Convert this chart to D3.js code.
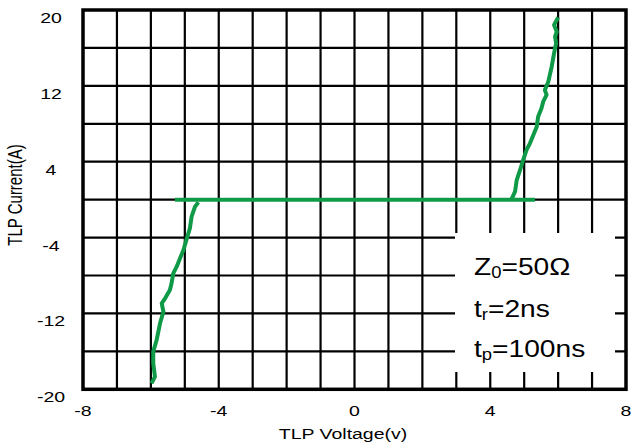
<!DOCTYPE html>
<html><head><meta charset="utf-8">
<script src="https://cdn.jsdelivr.net/npm/d3@7"></script>
<style>body{margin:0;background:#fff}</style>
</head><body>
<svg id="c" width="631" height="447"></svg>
<script>
const xTicks = [-8, -4, 0, 4, 8];
const yTicks = [20, 12, 4, -4, -12, -20];
const xGrid = [-7,-6,-5,-4,-3,-2,-1,0,1,2,3,4,5,6,7];
const yGrid = [16,12,8,4,0,-4,-8,-12,-16];
const flatX = [-5.29, 5.32];
const flatY = [0, 0];
const leftX = [-4.60,-4.70,-4.80,-4.85,-4.94,-5.04,-5.14,-5.24,-5.34,-5.39,-5.44,-5.58,-5.68,-5.63,-5.73,-5.83,-5.93,-5.93,-5.88,-5.98];
const leftY = [-0.28,-0.74,-1.80,-3.02,-4.08,-5.31,-6.18,-7.07,-7.77,-8.82,-9.53,-10.40,-10.93,-11.82,-13.04,-14.80,-16.03,-17.26,-18.67,-19.37];
const rightX = [4.63,4.73,4.78,4.88,4.97,5.07,5.17,5.27,5.37,5.41,5.51,5.56,5.66,5.61,5.71,5.81,5.88,5.94,5.91,5.96,5.88,5.96,6.00];
const rightY = [0.05,0.84,2.07,3.13,4.18,5.24,5.94,6.82,7.69,8.75,9.63,10.33,11.04,11.56,12.44,14.02,15.43,16.49,17.18,17.71,18.42,18.95,19.23];
const notes = [["Z","0","=50Ω"],["t","r","=2ns"],["t","p","=100ns"]];

const svg = d3.select("#c");
const x = d3.scaleLinear().domain([-8, 8]).range([83, 626]);
const y = d3.scaleLinear().domain([-20, 20]).range([389.3, 10]);
const SX = 1.3;
const font = "'Liberation Sans', Arial, sans-serif";

// grid
svg.append("g").selectAll("line").data(xGrid).join("line")
  .attr("x1", d => x(d)).attr("x2", d => x(d)).attr("y1", y(20)).attr("y2", y(-20))
  .attr("stroke", "#000").attr("stroke-width", 2.2);
svg.append("g").selectAll("line").data(yGrid).join("line")
  .attr("y1", d => y(d)).attr("y2", d => y(d)).attr("x1", x(-8)).attr("x2", x(8))
  .attr("stroke", "#000").attr("stroke-width", 2.2);

// annotation box
svg.append("rect").attr("x", 455).attr("y", 233).attr("width", 160).attr("height", 139).attr("fill", "#fff");

// frame
svg.append("rect").attr("x", x(-8)).attr("y", y(20)).attr("width", x(8) - x(-8)).attr("height", y(-20) - y(20))
  .attr("fill", "none").attr("stroke", "#000").attr("stroke-width", 3.5);

// data
const line = d3.line().x(d => x(d[0])).y(d => y(d[1]));
const green = "#0f9a48";
[[flatX, flatY],[leftX, leftY],[rightX, rightY]].forEach(([xs, ys]) => {
  svg.append("path").datum(xs.map((v, i) => [v, ys[i]])).attr("d", line)
    .attr("fill", "none").attr("stroke", green).attr("stroke-width", 4)
    .attr("stroke-linejoin", "round");
});

// tick labels
svg.append("g").selectAll("text").data(yTicks).join("text")
  .attr("transform", d => `translate(51,${y(d) + 13}) scale(${SX},1)`)
  .attr("text-anchor", "middle").attr("font-family", font).attr("font-size", 15).attr("fill", "#000")
  .text(d => d);
svg.append("g").selectAll("text").data(xTicks).join("text")
  .attr("transform", d => `translate(${x(d)},416) scale(${SX},1)`)
  .attr("text-anchor", "middle").attr("font-family", font).attr("font-size", 15).attr("fill", "#000")
  .text(d => d);

// axis titles
svg.append("text").attr("transform", `translate(343,439) scale(${SX},1)`)
  .attr("text-anchor", "middle").attr("font-family", font).attr("font-size", 15).text("TLP Voltage(v)");
svg.append("text").attr("transform", `translate(22,195) scale(${SX},1) rotate(-90)`)
  .attr("text-anchor", "middle").attr("font-family", font).attr("font-size", 15).text("TLP Current(A)");

// annotations
const baselines = [275, 317, 357];
notes.forEach((n, i) => {
  const t = svg.append("text").attr("transform", `translate(474,${baselines[i]}) scale(1.15,1)`)
    .attr("font-family", font).attr("font-size", 24.5).attr("fill", "#000");
  t.append("tspan").text(n[0]);
  t.append("tspan").attr("font-size", 16).attr("dy", 3).text(n[1]);
  t.append("tspan").attr("dy", -3).text(n[2]);
});
</script>
</body></html>
